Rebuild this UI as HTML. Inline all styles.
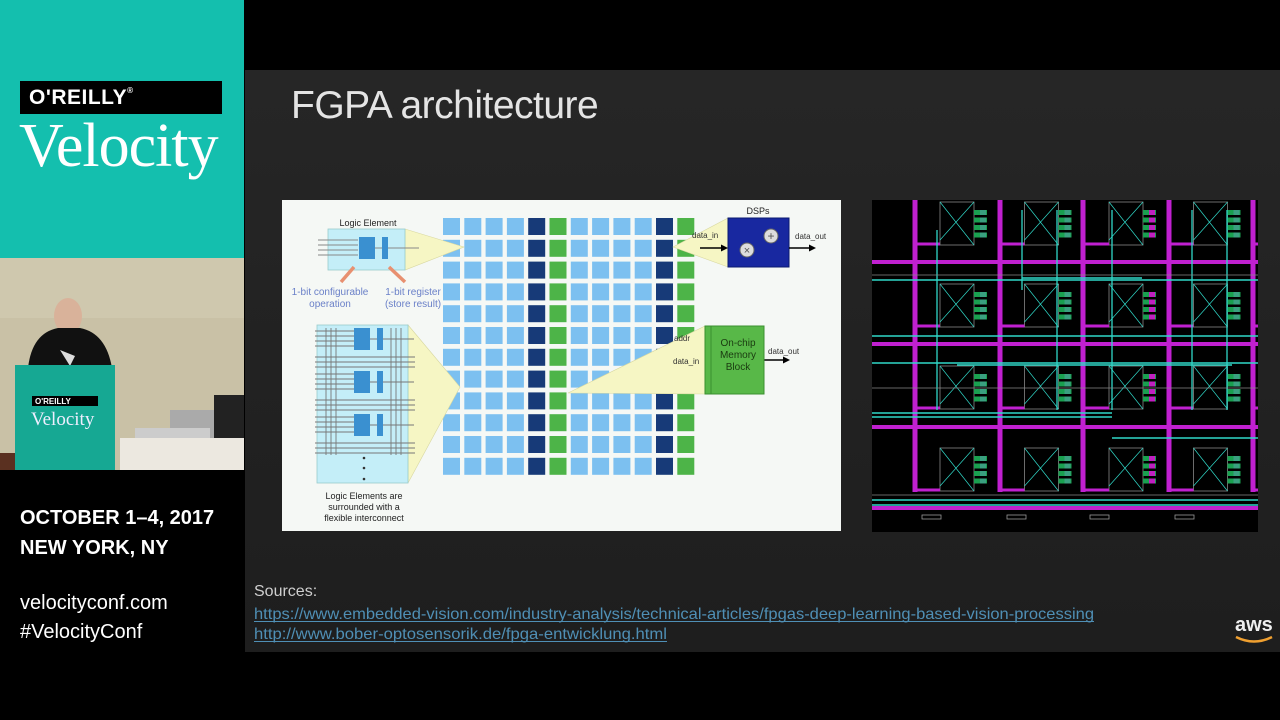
<!DOCTYPE html>
<html><head><meta charset="utf-8">
<style>
html,body{margin:0;padding:0;background:#000;}
body{width:1280px;height:720px;position:relative;overflow:hidden;font-family:"Liberation Sans",sans-serif;}
.abs{position:absolute;}
</style></head>
<body>
<!-- slide area -->
<div class="abs" style="left:245px;top:70px;width:1035px;height:582px;background:linear-gradient(180deg,#262626,#1e1e1e);"></div>
<div class="abs" style="left:291px;top:84px;font-size:39px;color:#e4e4e4;letter-spacing:-0.5px;">FGPA architecture</div>

<!-- left diagram -->
<svg class="abs" style="left:282px;top:200px" width="559" height="331" viewBox="0 0 559 331" font-family="Liberation Sans, sans-serif">
<rect x="0" y="0" width="559" height="331" fill="#f5f8f5"/>
<g id="grid"></g>
<!-- LE box -->
<polygon points="123,29 182,47 123,70" fill="#f6f6c4" stroke="#d8d8a0" stroke-width="0.6"/>
<rect x="46" y="29" width="77" height="41" fill="#c4eef8" stroke="#9cc" stroke-width="0.8"/>
<g stroke="#888" stroke-width="1">
<line x1="36" y1="40" x2="76" y2="40"/><line x1="36" y1="45" x2="76" y2="45"/><line x1="36" y1="50" x2="76" y2="50"/><line x1="36" y1="55" x2="76" y2="55"/>
<line x1="92" y1="48" x2="137" y2="48"/></g>
<rect x="77" y="37" width="16" height="22" fill="#3a90d0"/>
<rect x="100" y="37" width="6" height="22" fill="#3a90d0"/>
<text x="86" y="26" font-size="9" text-anchor="middle" fill="#222">Logic Element</text>
<g stroke="#e89070" stroke-width="3.5"><line x1="59" y1="82" x2="72" y2="67"/><line x1="123" y1="82" x2="107" y2="67"/></g>
<g font-size="10" fill="#6a80c8" text-anchor="middle">
<text x="48" y="95">1-bit configurable</text><text x="48" y="107">operation</text>
<text x="131" y="95">1-bit register</text><text x="131" y="107">(store result)</text></g>
<!-- big LE -->
<polygon points="126,125 178,187 126,283" fill="#f6f6c4" stroke="#d8d8a0" stroke-width="0.6"/>
<rect x="35" y="125" width="91" height="158" fill="#c4eef8" stroke="#9cc" stroke-width="0.8"/>
<g stroke="#777" stroke-width="0.9" id="bigle"></g>
<g fill="#333"><circle cx="82" cy="258" r="1.3"/><circle cx="82" cy="268" r="1.3"/><circle cx="82" cy="279" r="1.3"/></g>
<g font-size="9" fill="#222" text-anchor="middle">
<text x="82" y="299">Logic Elements are</text><text x="82" y="310">surrounded with a</text><text x="82" y="321">flexible interconnect</text></g>
<!-- DSP -->
<polygon points="391,47 446,18 446,67" fill="#f6f6c4" stroke="#d8d8a0" stroke-width="0.6"/>
<rect x="446" y="18" width="61" height="49" fill="#1828a0" stroke="#0a1a70"/>
<circle cx="465" cy="50" r="7" fill="#ddd" stroke="#666"/><text x="465" y="54" font-size="11" text-anchor="middle" fill="#555">×</text>
<circle cx="489" cy="36" r="7" fill="#ddd" stroke="#666"/><text x="489" y="40" font-size="12" text-anchor="middle" fill="#555">+</text>
<text x="476" y="14" font-size="9" text-anchor="middle" fill="#222">DSPs</text>
<text x="410" y="38" font-size="8" fill="#333">data_in</text>
<text x="513" y="39" font-size="8" fill="#333">data_out</text>
<g stroke="#000" stroke-width="1.6"><line x1="418" y1="48" x2="440" y2="48"/><line x1="507" y1="48" x2="528" y2="48"/>
<line x1="395" y1="151" x2="417" y2="151"/><line x1="395" y1="174" x2="417" y2="174"/><line x1="482" y1="160" x2="502" y2="160"/></g>
<g fill="#000"><polygon points="446,48 439,44.5 439,51.5"/><polygon points="534,48 527,44.5 527,51.5"/>
<polygon points="423,151 416,147.5 416,154.5"/><polygon points="423,174 416,170.5 416,177.5"/><polygon points="508,160 501,156.5 501,163.5"/></g>
<!-- memory -->
<polygon points="286,193 423,126 423,194" fill="#f6f6c4" stroke="#d8d8a0" stroke-width="0.6"/>
<rect x="423" y="126" width="59" height="68" fill="#58b848" stroke="#3a9030"/>
<line x1="429" y1="126" x2="429" y2="194" stroke="#3a9030"/>
<g font-size="10" fill="#1a3a10" text-anchor="middle"><text x="456" y="146">On-chip</text><text x="456" y="158">Memory</text><text x="456" y="170">Block</text></g>
<text x="392" y="141" font-size="8" fill="#333">addr</text>
<text x="391" y="164" font-size="8" fill="#333">data_in</text>
<text x="486" y="154" font-size="8" fill="#333">data_out</text>
</svg>

<!-- right routing image -->
<svg class="abs" style="left:872px;top:200px" width="386" height="332" viewBox="0 0 386 332">
<rect width="386" height="332" fill="#000"/>
<g id="route"></g>
</svg>

<div class="abs" style="left:254px;top:583px;font-size:16px;color:#cfcfcf;">Sources:</div>
<svg class="abs" style="left:254px;top:603px" width="860" height="42">
<text x="0" y="16" font-family="Liberation Sans, sans-serif" font-size="16" fill="#4f8fb5" textLength="840" lengthAdjust="spacingAndGlyphs">https://www.embedded-vision.com/industry-analysis/technical-articles/fpgas-deep-learning-based-vision-processing</text>
<line x1="0" y1="18.5" x2="840" y2="18.5" stroke="#4f8fb5"/>
<text x="0" y="36" font-family="Liberation Sans, sans-serif" font-size="16" fill="#4f8fb5" textLength="413" lengthAdjust="spacingAndGlyphs">http://www.bober-optosensorik.de/fpga-entwicklung.html</text>
<line x1="0" y1="38.5" x2="413" y2="38.5" stroke="#4f8fb5"/>
</svg>
<div class="abs" style="left:1235px;top:614px;font-size:20px;font-weight:bold;color:#eee;">aws</div>
<svg class="abs" style="left:1234px;top:634px" width="44" height="12"><path d="M2 3 Q20 12 38 3" stroke="#f0a030" stroke-width="2.5" fill="none"/></svg>

<!-- left panel -->
<div class="abs" style="left:0;top:0;width:244px;height:258px;background:#14bfae;"></div>
<div class="abs" style="left:20px;top:81px;width:202px;height:33px;background:#000;"></div>
<div class="abs" style="left:29px;top:86px;font-size:21px;font-weight:bold;color:#fff;letter-spacing:0.5px;">O'REILLY<span style="font-size:8px;vertical-align:top;">®</span></div>
<div class="abs" style="left:19px;top:111px;font-family:'Liberation Serif',serif;font-size:62px;color:#fff;letter-spacing:-1px;">Velocity</div>

<!-- photo -->
<svg class="abs" style="left:0;top:258px" width="244" height="212">
<rect width="244" height="212" fill="#c9c1a6"/>
<rect x="0" y="0" width="244" height="60" fill="#cfc8ae"/>
<rect x="0" y="195" width="20" height="17" fill="#5a3020"/>
<ellipse cx="68" cy="58" rx="14" ry="18" fill="#d9b29a"/>
<path d="M28 110 Q32 75 58 70 L80 70 Q106 75 112 110 Z" fill="#111"/>
<path d="M60 92 L75 98 L70 108 Z" fill="#ddd"/>
<rect x="15" y="107" width="100" height="105" fill="#16a893"/>
<rect x="32" y="138" width="66" height="10" fill="#000"/>
<text x="35" y="146" font-family="Liberation Sans" font-size="8" font-weight="bold" fill="#fff">O'REILLY</text>
<text x="31" y="167" font-family="Liberation Serif" font-size="19" fill="#eef">Velocity</text>
<rect x="214" y="137" width="30" height="45" fill="#222"/>
<rect x="170" y="152" width="44" height="30" fill="#aaa"/>
<rect x="135" y="170" width="75" height="12" fill="#ccc"/>
<rect x="120" y="180" width="124" height="32" fill="#ece8e0"/>
</svg>
<div class="abs" style="left:20px;top:503px;font-size:20px;font-weight:bold;color:#fff;line-height:30px;">OCTOBER 1–4, 2017<br>NEW YORK, NY</div>
<div class="abs" style="left:20px;top:589px;font-size:20px;color:#fff;line-height:29px;">velocityconf.com<br>#VelocityConf</div>

<script>
var NS="http://www.w3.org/2000/svg";
function el(p,t,a){var e=document.createElementNS(NS,t);for(var k in a)e.setAttribute(k,a[k]);p.appendChild(e);return e;}
// grid
var g=document.getElementById("grid");
var cols=["#7cc0f0","#7cc0f0","#7cc0f0","#7cc0f0","#173a78","#4db448","#7cc0f0","#7cc0f0","#7cc0f0","#7cc0f0","#173a78","#4db448"];
for(var c=0;c<12;c++)for(var r=0;r<12;r++)el(g,"rect",{x:161+c*21.3,y:18+r*21.8,width:17,height:17,fill:cols[c]});
// big LE
var b=document.getElementById("bigle");
[44,49,54].forEach(function(x){el(b,"line",{x1:x,y1:128,x2:x,y2:255});});
[109,114,119].forEach(function(x){el(b,"line",{x1:x,y1:128,x2:x,y2:255});});
[0,43,86].forEach(function(o){
 [131,136,141,146].forEach(function(y){el(b,"line",{x1:33,y1:y+o,x2:72,y2:y+o});});
 el(b,"line",{x1:88,y1:139+o,x2:132,y2:139+o});
 [157,162,167].forEach(function(y){if(y+o<255)el(b,"line",{x1:33,y1:y+o,x2:133,y2:y+o});});
 el(b,"rect",{x:72,y:128+o,width:16,height:22,fill:"#3a90d0",stroke:"none"});
 el(b,"rect",{x:95,y:128+o,width:6,height:22,fill:"#3a90d0",stroke:"none"});
});
// routing
var R=document.getElementById("route");
for(var i=0;i<5;i++){for(var j=0;j<4;j++){
 var bx=-16+i*84.5, by=j*82;
 el(R,"rect",{x:bx+84,y:by+2,width:34,height:43,fill:"none",stroke:"#888","stroke-width":0.8});
 for(var k=0;k<4;k++){el(R,"rect",{x:bx+118,y:by+10+k*7.5,width:13,height:5,fill:"#1aa050"});
  el(R,"rect",{x:bx+124,y:by+10+k*7.5,width:6,height:5,fill:(i==4?"#c01818":(i==2?"#c020c0":"#3aa080"))});}
 el(R,"line",{x1:bx+84,y1:by+2,x2:bx+118,y2:by+45,stroke:"#30d8c8","stroke-width":0.7});
 el(R,"line",{x1:bx+118,y1:by+2,x2:bx+84,y2:by+40,stroke:"#30d8c8","stroke-width":0.7});
 el(R,"line",{x1:bx+60,y1:by+44,x2:bx+84,y2:by+44,stroke:"#c020d0","stroke-width":3});
}}
[43,128,211,297,381].forEach(function(x){el(R,"line",{x1:x,y1:0,x2:x,y2:292,stroke:"#c020d0","stroke-width":5});});
[62,144,227,308].forEach(function(y){el(R,"line",{x1:0,y1:y,x2:386,y2:y,stroke:"#c020d0","stroke-width":4});});
var cy=[[0,136,386,136],[0,80,386,80],[0,163,386,163],[0,213,240,213],[0,217,240,217],[85,165,360,165],[150,78,270,78],[240,238,386,238],[0,300,386,300],[0,305,386,305]];
cy.forEach(function(l){el(R,"line",{x1:l[0],y1:l[1],x2:l[2],y2:l[3],stroke:"#30d8c8","stroke-width":1.5});});
[[65,30,65,210],[150,10,150,45],[150,45,150,90],[185,10,185,210],[240,10,240,210],[320,10,320,210],[355,10,355,210]].forEach(function(l){el(R,"line",{x1:l[0],y1:l[1],x2:l[2],y2:l[3],stroke:"#30d8c8","stroke-width":1.3});});
[[0,75,386,75],[0,188,386,188],[0,295,386,295]].forEach(function(l){el(R,"line",{x1:l[0],y1:l[1],x2:l[2],y2:l[3],stroke:"#888","stroke-width":0.8});});
[50,135,218,303].forEach(function(x){el(R,"rect",{x:x,y:315,width:19,height:4,fill:"none",stroke:"#999","stroke-width":0.8});});
</script>
</body></html>
